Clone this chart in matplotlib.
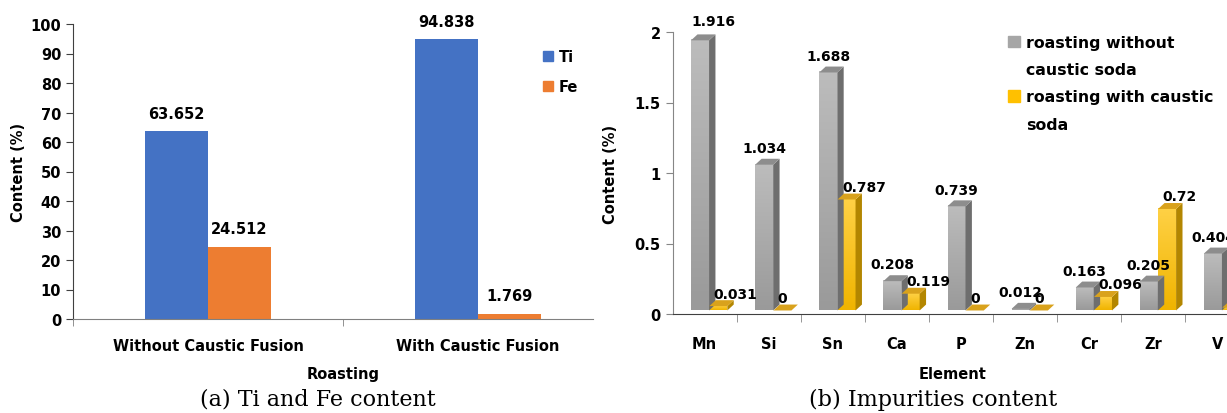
import matplotlib
matplotlib.use("Agg")
import matplotlib.pyplot as plt
import numpy as np
from matplotlib.patches import Patch, Polygon
from matplotlib.colors import LinearSegmentedColormap

# (a) Ti and Fe content
roasting = ["Without Caustic Fusion", "With Caustic Fusion"]
ti = [63.652, 94.838]
fe = [24.512, 1.769]

# (b) impurities content
elements = ["Mn", "Si", "Sn", "Ca", "P", "Zn", "Cr", "Zr", "V"]
without_soda = [1.916, 1.034, 1.688, 0.208, 0.739, 0.012, 0.163, 0.205, 0.404]
with_soda = [0.031, 0, 0.787, 0.119, 0, 0, 0.096, 0.72, 0.02]
yticks_b = [0, 0.5, 1, 1.5, 2]
ytick_labels_b = ["0", "0.5", "1", "1.5", "2"]

plt.rcParams["font.family"] = "DejaVu Sans"
plt.rcParams["font.weight"] = "bold"
plt.rcParams["axes.labelweight"] = "bold"
plt.rcParams["font.size"] = 10.5

W, H = 1227, 414
fig = plt.figure(figsize=(W / 100, H / 100), dpi=100)

# ---------------- left panel ----------------
ax1 = fig.add_axes([73 / W, 94 / H, 520 / W, 295 / H])
x = np.arange(len(roasting))
w = 0.233
b1 = ax1.bar(x - w / 2, ti, w, color="#4472C4", label="Ti")
b2 = ax1.bar(x + w / 2, fe, w, color="#ED7D31", label="Fe")
for bars, vals in ((b1, ti), (b2, fe)):
    for r, v in zip(bars, vals):
        ax1.annotate(str(v), (r.get_x() + r.get_width() / 2, v), xytext=(0, 13),
                     textcoords="offset points", ha="center", va="center")

ax1.set_xlim(-0.5, 1.426)
ax1.set_ylim(0, 100)
ax1.set_yticks(range(0, 101, 10))
ax1.set_xticks(x)
ax1.set_xticklabels(roasting)
ax1.set_xticks([-0.5, 0.5], minor=True)
ax1.tick_params(axis="x", which="major", length=0, pad=14)
ax1.tick_params(axis="x", which="minor", length=5, color="#808080")
ax1.tick_params(axis="y", length=5, color="#404040")
for s in ("top", "right"):
    ax1.spines[s].set_visible(False)
ax1.spines["left"].set_color("#404040")
ax1.spines["bottom"].set_color("#808080")
ax1.set_ylabel("Content (%)")
ax1.yaxis.set_label_coords(-0.091, 0.5)
ax1.set_xlabel("Roasting")
ax1.xaxis.set_label_coords(0.519, -0.159)
ax1.legend(handles=[Patch(color="#4472C4", label="Ti"), Patch(color="#ED7D31", label="Fe")],
           loc="upper left", bbox_to_anchor=(543 / W, 1 - 50 / H), bbox_transform=fig.transFigure,
           frameon=False, borderpad=0, borderaxespad=0, handlelength=0.7, handleheight=0.7,
           handletextpad=0.4, labelspacing=1.05)
fig.text(318 / W, 1 - 400 / H, "(a) Ti and Fe content", family="DejaVu Serif",
         weight="normal", size=16, ha="center", va="center")

# ---------------- right panel (3D-look columns) ----------------
ax2 = fig.add_axes([672.5 / W, 99 / H, 577 / W, 282 / H])
base = 0.025
bw = 0.28
dx, dy = 0.1, 0.042
grad = np.linspace(0, 1, 64).reshape(-1, 1)
styles = {
    "gray": dict(cmap=LinearSegmentedColormap.from_list("g", ["#9a9a9a", "#bcbcbc"]),
                 side="#6e6e6e", top="#8d8d8d", shift=-0.21),
    "gold": dict(cmap=LinearSegmentedColormap.from_list("y", ["#f0b400", "#ffd145"]),
                 side="#b38600", top="#d9a21c", shift=0.075),
}


def column(ax, x0, v, st):
    y1 = base + v
    if v > 0:
        ax.imshow(grad, extent=[x0, x0 + bw, base, y1], origin="lower", aspect="auto",
                  cmap=st["cmap"], interpolation="bilinear")
    ax.add_patch(Polygon([(x0 + bw, base), (x0 + bw + dx, base + dy),
                          (x0 + bw + dx, y1 + dy), (x0 + bw, y1)], closed=True,
                         color=st["side"], lw=0))
    ax.add_patch(Polygon([(x0, y1), (x0 + dx, y1 + dy), (x0 + bw + dx, y1 + dy),
                          (x0 + bw, y1)], closed=True, color=st["top"], lw=0))


for i, (g, y) in enumerate(zip(without_soda, with_soda)):
    gx = i + styles["gray"]["shift"]
    yx = i + styles["gold"]["shift"]
    column(ax2, gx, g, styles["gray"])
    column(ax2, yx, y, styles["gold"])
    if i == 0:
        ax2.annotate(str(g), (gx, base + g), xytext=(0, 14), textcoords="offset points",
                     ha="left", va="center", fontsize=10, annotation_clip=False)
    else:
        ax2.annotate(str(g), (gx + bw / 2, base + g), xytext=(0, 12), textcoords="offset points",
                     ha="center", va="center", fontsize=10, annotation_clip=False)
    ax2.annotate(str(y), (yx + 0.068, base + y), xytext=(0, 9), textcoords="offset points",
                 ha="left", va="center", fontsize=10, annotation_clip=False)

ax2.set_xlim(-0.5, 8.5)
ax2.set_ylim(0, 2)
ax2.set_yticks(yticks_b)
ax2.set_yticklabels(ytick_labels_b)
ax2.set_xticks(np.arange(len(elements)))
ax2.set_xticklabels(elements)
ax2.set_xticks(np.arange(len(elements)) + 0.5, minor=True)
ax2.tick_params(axis="x", which="major", length=0, pad=15.5)
ax2.tick_params(axis="x", which="minor", length=6, color="#868686")
ax2.tick_params(axis="y", length=5, color="#868686")
for s in ("top", "right"):
    ax2.spines[s].set_visible(False)
ax2.spines["left"].set_color("#868686")
ax2.spines["bottom"].set_color("#404040")
ax2.set_ylabel("Content (%)")
ax2.yaxis.set_label_coords(-0.095, 0.5)
ax2.set_xlabel("Element")
ax2.xaxis.set_label_coords(0.486, -0.185)
blank = Patch(color="none")
ax2.legend(handles=[Patch(color="#a6a6a6"), blank, Patch(color="#ffc000"), blank],
           labels=["roasting without", "caustic soda", "roasting with caustic", "soda"],
           loc="upper left", bbox_to_anchor=(1008 / W, 1 - 36 / H), bbox_transform=fig.transFigure,
           frameon=False, borderpad=0, borderaxespad=0, handlelength=0.75, handleheight=0.75,
           handletextpad=0.4, labelspacing=0.78, fontsize=11.3)
fig.text(933 / W, 1 - 400 / H, "(b) Impurities content", family="DejaVu Serif",
         weight="normal", size=16, ha="center", va="center")

fig.savefig("out.png", dpi=100)
